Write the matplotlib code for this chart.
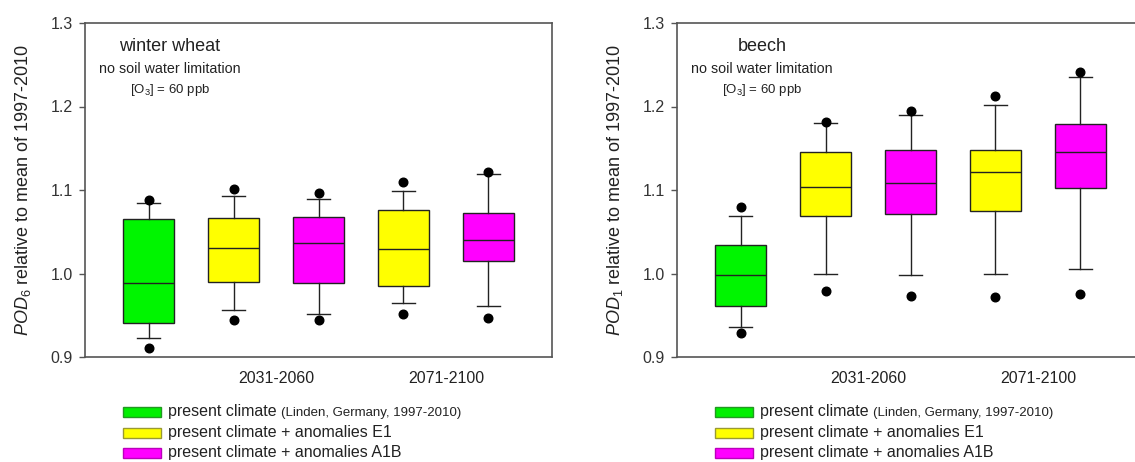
import matplotlib
matplotlib.use("Agg")
import matplotlib.pyplot as plt
from matplotlib.patches import Rectangle

plt.rcParams['font.family'] = ['Liberation Sans', 'DejaVu Sans']
plt.rcParams['mathtext.fontset'] = 'custom'
plt.rcParams['mathtext.rm'] = 'Liberation Sans'
plt.rcParams['mathtext.it'] = 'Liberation Sans:italic'
plt.rcParams['mathtext.bf'] = 'Liberation Sans:bold'

# ---- data ----
box_colors = ['#00f500', '#ffff00', '#ff00ff', '#ffff00', '#ff00ff']
period_labels = ['2031-2060', '2071-2100']
period_positions = [2.5, 4.5]

# winter wheat (POD6)
wheat_q1 = [0.941, 0.990, 0.989, 0.985, 1.015]
wheat_med = [0.989, 1.031, 1.037, 1.029, 1.040]
wheat_q3 = [1.065, 1.066, 1.068, 1.076, 1.072]
wheat_whislo = [0.923, 0.956, 0.951, 0.965, 0.961]
wheat_whishi = [1.085, 1.093, 1.089, 1.099, 1.119]
wheat_low_dot = [0.911, 0.944, 0.944, 0.951, 0.947]
wheat_high_dot = [1.088, 1.101, 1.097, 1.109, 1.121]

# beech (POD1)
beech_q1 = [0.961, 1.069, 1.071, 1.075, 1.102]
beech_med = [0.998, 1.104, 1.108, 1.122, 1.145]
beech_q3 = [1.034, 1.145, 1.148, 1.148, 1.179]
beech_whislo = [0.936, 1.000, 0.998, 0.999, 1.005]
beech_whishi = [1.069, 1.180, 1.190, 1.202, 1.235]
beech_low_dot = [0.929, 0.979, 0.973, 0.972, 0.976]
beech_high_dot = [1.080, 1.181, 1.195, 1.213, 1.241]

legend_main = ['present climate', 'present climate + anomalies E1',
               'present climate + anomalies A1B']
legend_extra = '(Linden, Germany, 1997-2010)'
legend_colors = ['#00f000', '#ffff00', '#ff00ff']
legend_edges = ['#229922', '#999933', '#bb00bb']

W, H = 1135, 462
fig = plt.figure(figsize=(W / 100, H / 100), dpi=100)

spine_col = '#555555'
edge_col = '#222222'


def make_panel(left_px, q1, med, q3, lo, hi, dlo, dhi, ylabel, title,
               hide_right=False):
    ax = fig.add_axes([left_px / W, 1 - 357 / H, 467 / W, 334 / H])
    stats = []
    for i in range(len(med)):
        stats.append(dict(med=med[i], q1=q1[i], q3=q3[i], whislo=lo[i],
                          whishi=hi[i], fliers=[dlo[i], dhi[i]]))
    pos = list(range(1, len(med) + 1))
    bp = ax.bxp(stats, positions=pos, widths=0.6, patch_artist=True,
                capwidths=0.27, manage_ticks=False,
                boxprops=dict(linewidth=1.0, edgecolor=edge_col),
                medianprops=dict(color=edge_col, linewidth=1.0),
                whiskerprops=dict(color=edge_col, linewidth=1.0),
                capprops=dict(color=edge_col, linewidth=1.0),
                flierprops=dict(marker='o', markerfacecolor='black',
                                markeredgecolor='black', markersize=6.2))
    for patch, c in zip(bp['boxes'], box_colors):
        patch.set_facecolor(c)
    ax.set_xlim(0.25, 5.75)
    ax.set_ylim(0.9, 1.3)
    ax.set_yticks([0.9, 1.0, 1.1, 1.2, 1.3])
    ax.set_yticklabels(['0.9', '1.0', '1.1', '1.2', '1.3'])
    ax.set_xticks(period_positions)
    ax.set_xticklabels(period_labels)
    ax.tick_params(axis='x', length=0, pad=10, labelsize=11.5, labelcolor='#222222')
    ax.tick_params(axis='y', length=4, width=1, pad=5, labelsize=11.5,
                   labelcolor='#333333', color=spine_col)
    for s in ax.spines.values():
        s.set_color(spine_col)
        s.set_linewidth(1.2)
    if hide_right:
        ax.spines['right'].set_visible(False)
    ax.set_ylabel(ylabel, fontsize=13, color='#222222')
    ax.yaxis.set_label_coords(-0.112, 0.5)
    ax.text(0.182, 0.931, title, transform=ax.transAxes, ha='center',
            va='center', fontsize=13, color='#222222')
    ax.text(0.182, 0.862, 'no soil water limitation', transform=ax.transAxes,
            ha='center', va='center', fontsize=10.3, color='#222222')
    ax.text(0.182, 0.800, r'[O$_3$] = 60 ppb', transform=ax.transAxes,
            ha='center', va='center', fontsize=9.5, color='#222222')
    return ax


make_panel(85, wheat_q1, wheat_med, wheat_q3, wheat_whislo, wheat_whishi,
           wheat_low_dot, wheat_high_dot,
           r'$\mathit{POD}_{6}$ relative to mean of 1997-2010', 'winter wheat')
make_panel(677, beech_q1, beech_med, beech_q3, beech_whislo, beech_whishi,
           beech_low_dot, beech_high_dot,
           r'$\mathit{POD}_{1}$ relative to mean of 1997-2010', 'beech',
           hide_right=True)

# ---- legends ----
row_y = [411.5, 432.5, 453.0]
for patch_x, text_x in [(123, 168), (715, 760)]:
    for i in range(3):
        fig.add_artist(Rectangle((patch_x / W, 1 - (row_y[i] + 5) / H),
                                 38 / W, 10 / H, transform=fig.transFigure,
                                 facecolor=legend_colors[i],
                                 edgecolor=legend_edges[i], linewidth=1.0))
        t = fig.text(text_x / W, 1 - row_y[i] / H, legend_main[i],
                     ha='left', va='center', fontsize=11.5, color='#222222')
        if i == 0:
            ann = plt.annotate(legend_extra, xy=(1, 0), xycoords=t,
                               xytext=(3, 0.3), textcoords='offset points',
                               ha='left', va='bottom', fontsize=9.5,
                               color='#222222', annotation_clip=False)

fig.savefig('out.png', dpi=100)
